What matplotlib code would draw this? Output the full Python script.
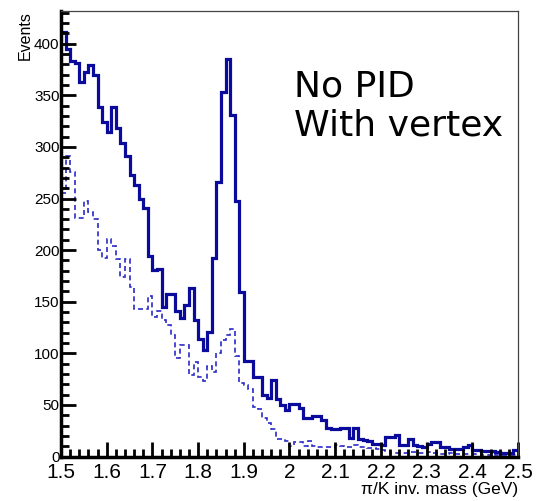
import numpy as np
import matplotlib
matplotlib.use("Agg")
import matplotlib.pyplot as plt
from matplotlib.ticker import MultipleLocator

# pi/K invariant mass, 100 bins from 1.5 to 2.5 GeV
bin_edges = np.linspace(1.5, 2.5, 101)

with_vertex = [
    411, 395, 383, 381, 363, 373, 379, 370, 339, 324,
    314, 339, 318, 304, 291, 273, 263, 250, 241, 194,
    181, 182, 145, 157, 157, 141, 134, 147, 163, 132,
    114, 103, 121, 192, 266, 353, 385, 331, 248, 159,
    93, 93, 77, 77, 60, 57, 74, 56, 50, 45,
    51, 51, 47, 37, 37, 39, 39, 35, 28, 27,
    27, 28, 28, 18, 28, 17, 16, 15, 12, 12,
    11, 19, 19, 21, 11, 11, 17, 11, 10, 9,
    12, 14, 14, 9, 9, 7, 7, 7, 9, 11,
    6, 6, 5, 5, 5, 4, 3, 3, 3, 6,
]

dashed_hist = [
    255, 291, 276, 231, 231, 248, 237, 230, 200, 192,
    211, 204, 191, 174, 191, 164, 143, 143, 143, 156,
    135, 141, 132, 127, 118, 95, 108, 108, 79, 92,
    77, 73, 88, 82, 100, 113, 118, 124, 97, 71,
    69, 65, 48, 46, 37, 32, 27, 17, 17, 15,
    10, 14, 14, 10, 15, 10, 9, 9, 9, 9,
    11, 10, 9, 9, 11, 9, 9, 8, 8, 7,
    6, 5, 3, 3, 3, 3, 4, 4, 3, 3,
    4, 3, 3, 2, 2, 3, 2, 2, 2, 2,
    2, 2, 1, 1, 2, 1, 1, 1, 1, 1,
]

plt.rcParams["font.family"] = ["Liberation Sans", "DejaVu Sans"]

fig = plt.figure(figsize=(5.37, 5.01), dpi=100)
ax = fig.add_axes([0.1136, 0.0888, 0.851, 0.8898])

ax.stairs(dashed_hist, bin_edges, baseline=None, color="#2a2ac8",
          linewidth=1.2, linestyle=(0, (3, 2)))
ax.stairs(with_vertex, bin_edges, baseline=None, color="#0a0a9c",
          linewidth=2.3)

ax.set_xlim(1.5, 2.5)
ax.set_ylim(0, 432)

# ROOT-like frame: thick left/bottom axes, thin top/right
ax.spines["left"].set_linewidth(2.5)
ax.spines["bottom"].set_linewidth(2.5)
ax.spines["top"].set_linewidth(0.9)
ax.spines["right"].set_linewidth(0.9)
ax.spines["top"].set_color("#444444")
ax.spines["right"].set_color("#444444")

ax.xaxis.set_major_locator(MultipleLocator(0.1))
ax.xaxis.set_minor_locator(MultipleLocator(0.02))
ax.yaxis.set_major_locator(MultipleLocator(50))
ax.yaxis.set_minor_locator(MultipleLocator(10))
ax.tick_params(which="both", direction="in", top=False, right=False, width=2)
ax.tick_params(which="major", length=11)
ax.tick_params(which="minor", length=6)
ax.tick_params(axis="x", which="major", labelsize=15, pad=5)
ax.tick_params(axis="y", which="major", labelsize=11, pad=1)
ax.set_xticks(np.arange(1.5, 2.51, 0.1))
ax.set_xticklabels(["1.5", "1.6", "1.7", "1.8", "1.9", "2", "2.1", "2.2", "2.3", "2.4", "2.5"])

ax.set_xlabel("\u03c0/K inv. mass (GeV)", fontsize=12.5, loc="right", labelpad=0)
ax.set_ylabel("Events", fontsize=11.5, loc="top", labelpad=1)

ax.text(0.51, 0.868, "No PID\nWith vertex", transform=ax.transAxes,
        fontsize=26, family=["DejaVu Sans"], va="top", ha="left",
        linespacing=1.18)

fig.savefig("out.png", dpi=100)
